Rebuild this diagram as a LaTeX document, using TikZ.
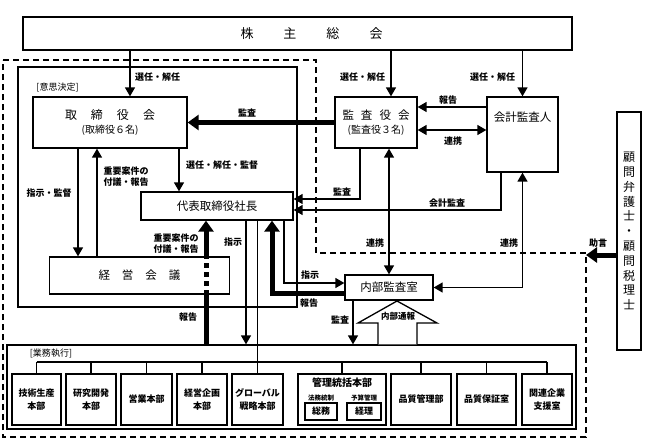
\documentclass[tikz,border=0pt]{standalone}
\usepackage{fontspec}
\setmainfont{Noto Sans CJK JP}
\usetikzlibrary{arrows.meta}

\begin{document}
\begin{tikzpicture}[
  x=1pt, y=-1pt,
  box/.style={draw, line width=1.3pt, fill=white, align=center, inner sep=1pt,
    font=\fontsize{11.5}{14}\selectfont},
  unit/.style={box, minimum height=51pt, font=\bfseries\fontsize{9}{12.5}\selectfont},
  subbox/.style={draw, line width=1.8pt, fill=white, minimum height=17pt,
    inner sep=0pt, font=\bfseries\fontsize{9}{11}\selectfont},
  frame/.style={draw, line width=1.3pt},
  lbl/.style={font=\bfseries\fontsize{9}{11}\selectfont, inner sep=0.5pt, align=center},
  tag/.style={font=\fontsize{9}{11}\selectfont, inner sep=0.5pt},
  arr/.style={-{Triangle[length=9pt, width=10pt]}, line width=1.4pt},
  darr/.style={{Triangle[length=9pt, width=10pt]}-{Triangle[length=9pt, width=10pt]}, line width=1.4pt},
  fat/.style={line width=5pt},
  fatarr/.style={-{Triangle[length=11pt, width=15pt]}, line width=5pt},
  zone/.style={dash pattern=on 6pt off 4pt, line width=1.1pt}
]
  \useasboundingbox (0,0) rectangle (645,447);

  % dashed governance zone
  \draw[zone] (3,60) -- (316,60) -- (316,253) -- (586,253) -- (586,437) -- (3,437) -- cycle;
  \coordinate (zcorner) at (586,255);

  % frames
  \node[frame, minimum width=279pt, minimum height=240pt] (ishi) at (157.5,187) {};
  \node[tag] (ishitag) at (57.5,87) {[意思決定]};
  \node[frame, minimum width=569pt, minimum height=84pt] (gyomu) at (291.5,387) {};
  \node[tag] (gyomutag) at (51,353) {[業務執行]};

  % main bodies
  \node[box, minimum width=549pt, minimum height=33pt, font=\fontsize{13}{15}\selectfont] (gm) at (297.5,33.5)
    {\hspace*{28pt}株\hspace{30pt}主\hspace{30pt}総\hspace{30pt}会};
  \node[box, minimum width=154pt, minimum height=51pt, font=\fontsize{12}{14}\selectfont] (bod) at (110,122.5)
    {取\hspace{14pt}締\hspace{14pt}役\hspace{14pt}会\\{\fontsize{10}{12}\selectfont (取締役６名)}};
  \node[box, minimum width=82pt, minimum height=51pt] (kab) at (376,122.5)
    {監\hspace{7pt}査\hspace{7pt}役\hspace{7pt}会\\{\fontsize{10}{12}\selectfont (監査役３名)}};
  \node[box, minimum width=71pt, minimum height=75pt,
    label={[anchor=north, yshift=-12pt, font=\fontsize{11.5}{14}\selectfont]north:会計監査人}] (kaikei) at (522.5,134.5) {};
  \node[box, minimum width=152pt, minimum height=28pt] (pres) at (217,206) {代表取締役社長};
  \node[box, minimum width=180pt, minimum height=37pt] (keiei) at (139.5,275.5)
    {経\hspace{12pt}営\hspace{12pt}会\hspace{12pt}議};
  \node[box, minimum width=88pt, minimum height=25pt] (naibu) at (389,287.5) {内部監査室};
  \node[box, minimum width=24pt, minimum height=238pt, font=\fontsize{12}{14.8}\selectfont] (komon) at (629,231)
    {顧\\問\\弁\\護\\士\\・\\顧\\問\\税\\理\\士};

  % business units
  \foreach \n/\cx/\w/\t in {b1/36.5/49/{技術生産\\本部}, b2/91/50/{研究開発\\本部},
      b3/146.5/51/{営業本部}, b4/202/50/{経営企画\\本部}, b5/257.5/51/{グローバル\\戦略本部},
      b6/342/88/{}, b7/421/60/{品質管理部}, b8/486.5/59/{品質保証室}, b9/547/50/{関連企業\\支援室}}
    \node[unit, minimum width=\w pt] (\n) at (\cx,399.5) {\t};
  \node[lbl, font=\bfseries\fontsize{10}{12}\selectfont] (b6title) at (342,383) {管理統括本部};
  \node[lbl, font=\bfseries\fontsize{6.5}{8}\selectfont] (houmu) at (321,398) {法務統制};
  \node[lbl, font=\bfseries\fontsize{6.5}{8}\selectfont] (yosan) at (364,398) {予算管理};
  \node[subbox, minimum width=32pt] (soumu) at (321,411.5) {総務};
  \node[subbox, minimum width=34pt] (keiri) at (364,411.5) {経理};

  % branch
  \coordinate (branch) at (0,362);
  \draw[line width=1.3pt] (b1.north |- branch) -- (b9.north |- branch);
  \foreach \n in {b1,b2,b3,b4,b6,b7,b8,b9}
    \draw[line width=1.3pt] (\n.north |- branch) -- (\n.north);
  \draw[line width=1.3pt] (pres.south -| b5.north) -- (b5.north);

  % shareholders
  \draw[arr] (gm.south -| 130,0) -- (bod.north -| 130,0);
  \draw[arr] (gm.south -| 391,0) -- (kab.north -| 391,0);
  \draw[arr] (gm.south -| kaikei.north) -- (kaikei.north);
  \node[lbl] (senA) at (157.5,77) {選任・解任};
  \node[lbl] (senB) at (362.5,77) {選任・解任};
  \node[lbl] (senC) at (492.5,77) {選任・解任};

  % audit side
  \draw[fatarr] (kab.west) -- (bod.east);
  \node[lbl] (kansaA) at (247,113) {監査};
  \draw[arr] (kaikei.west |- 0,107) -- (kab.east |- 0,107);
  \node[lbl] (hokokuA) at (448,100) {報告};
  \draw[darr] (kab.east |- 0,130) -- (kaikei.west |- 0,130);
  \node[lbl] (renkeiA) at (453,141) {連携};
  \draw[arr] (kab.south -| 360,0) |- ([yshift=7pt]pres.east);
  \node[lbl] (kansaB) at (342,192) {監査};
  \draw[arr] (kaikei.south -| 501,0) |- ([yshift=-4pt]pres.east);
  \node[lbl] (kaikeiL) at (447,203) {会計監査};
  \draw[darr] (kab.south -| naibu.north) -- (naibu.north);
  \node[lbl] (renkeiB) at (375,243) {連携};
  \draw[darr] (kaikei.south) |- (naibu.east);
  \node[lbl] (renkeiC) at (509,243) {連携};
  \draw[fatarr] (komon.west |- zcorner) -- (zcorner);
  \node[lbl] (jogen) at (598,243) {助言};

  % board and management
  \draw[arr] (bod.south -| 78,0) -- (keiei.north -| 78,0);
  \node[lbl] (shijiA) at (49,193) {指示・監督};
  \draw[arr] (keiei.north -| 97,0) -- (bod.south -| 97,0);
  \node[lbl] (juyoA) at (126,176.5) {重要案件の\\付議・報告};
  \draw[arr] (bod.south -| 179,0) -- (pres.north -| 179,0);
  \node[lbl] (senD) at (222,165) {選任・解任・監督};

  % execution
  \draw[fat] (gyomu.north -| 206,0) -- (keiei.south -| 206,0);
  \draw[fat, dash pattern=on 5pt off 4pt] (keiei.south -| 206,0) -- (keiei.north -| 206,0);
  \draw[fatarr] (keiei.north -| 206,0) -- (pres.south -| 206,0);
  \node[lbl] (juyoB) at (176,243.5) {重要案件の\\付議・報告};
  \node[lbl] (hokokuB) at (188,317) {報告};
  \draw[arr] (pres.south -| 246,0) -- (gyomu.north -| 246,0);
  \node[lbl] (shijiB) at (233,242) {指示};

  % internal audit
  \draw[arr] (pres.south -| 284,0) |- ([yshift=4.5pt]naibu.west);
  \node[lbl] (shijiC) at (310,275.5) {指示};
  \draw[fatarr] ([yshift=-6pt]naibu.west) -| (pres.south -| 272,0);
  \node[lbl] (hokokuC) at (309,303) {報告};
  \draw[arr] (naibu.south -| 353,0) -- (gyomu.north -| 353,0);
  \node[lbl] (kansaC) at (340,320) {監査};
  \draw[line width=1.3pt, fill=white] (gyomu.north -| 378,0) -- (378,323) -- (358,323) -- (397,301)
    -- (437,323) -- (417,323) -- (gyomu.north -| 417,0);
  \node[lbl, font=\bfseries\fontsize{8.5}{10}\selectfont] (tsuho) at (398,316) {内部通報};
\end{tikzpicture}
\end{document}
